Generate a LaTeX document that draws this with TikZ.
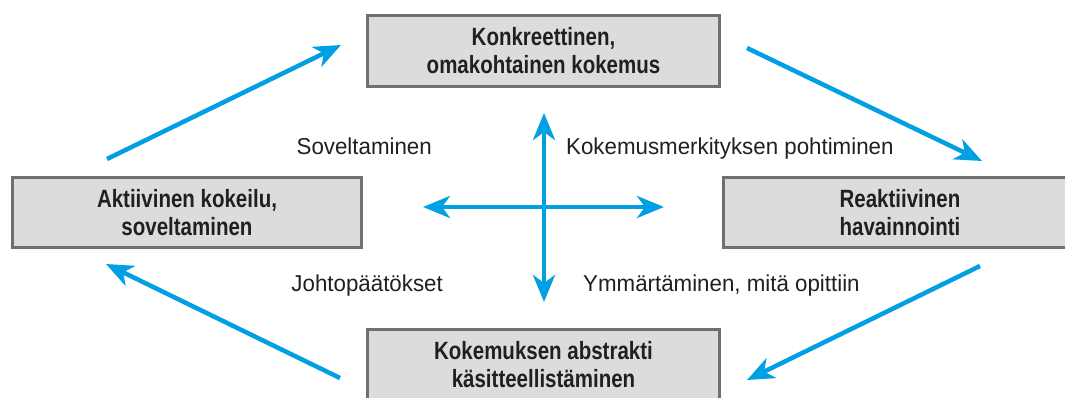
\documentclass[tikz,border=0pt]{standalone}
\usepackage{fontspec}
\usetikzlibrary{arrows.meta}
\newfontfamily\boxfont[FakeStretch=0.82]{Liberation Sans}
\newfontfamily\labfont[FakeStretch=0.97]{Liberation Sans}
\definecolor{arrowblue}{RGB}{0,160,227}
\definecolor{boxfill}{RGB}{221,220,220}
\definecolor{boxline}{RGB}{112,112,112}
\definecolor{txt}{RGB}{35,31,32}
\tikzset{
  stagebox/.style={draw=boxline, fill=boxfill, line width=3pt, inner sep=0pt,
    minimum width=352pt, minimum height=71pt, align=center, text=txt,
    font=\boxfont\bfseries\fontsize{25}{28}\selectfont},
  lab/.style={text=txt, inner sep=0pt, font=\labfont\fontsize{23}{26}\selectfont},
  flow/.style={draw=arrowblue, line width=4.5pt,
    -{Stealth[length=27pt,width=22pt,inset=8pt]}},
  both/.style={draw=arrowblue, line width=4.5pt,
    {Stealth[length=27pt,width=22pt,inset=8pt]}-{Stealth[length=27pt,width=22pt,inset=8pt]}}
}
\begin{document}
\begin{tikzpicture}[x=1pt,y=-1pt]
\useasboundingbox (0,0) rectangle (1065,397);
\fill[white] (0,0) rectangle (1065,397);
\clip (0,0) rectangle (1065,397);
% boxes
\node[stagebox] (top) at (543.5,51) {Konkreettinen,\\omakohtainen kokemus};
\node[stagebox, minimum width=349pt, minimum height=70pt] (left) at (187,212.5) {Aktiivinen kokeilu,\\soveltaminen};
\node[stagebox, minimum width=353pt, minimum height=70pt] (right) at (900,212.5) {Reaktiivinen\\havainnointi};
\node[stagebox] (bottom) at (543.5,365) {Kokemuksen abstrakti\\käsitteellistäminen};
% labels
\node[lab, anchor=base east] (l1) at (432,154) {Soveltaminen};
\node[lab, anchor=base west] (l2) at (566,154) {Kokemusmerkityksen pohtiminen};
\node[lab, anchor=base east] (l3) at (443,291) {Johtopäätökset};
\node[lab, anchor=base west] (l4) at (583,291) {Ymmärtäminen, mitä opittiin};
% cycle arrow end points
\coordinate (a1s) at (747,48);  \coordinate (a1e) at (982,161);
\coordinate (a2s) at (980,266); \coordinate (a2e) at (747,380);
\coordinate (a3s) at (340,378); \coordinate (a3e) at (106,264);
\coordinate (a4s) at (107,159); \coordinate (a4e) at (341,45);
\draw[flow] (a1s) -- (a1e);
\draw[flow] (a2s) -- (a2e);
\draw[flow] (a3s) -- (a3e);
\draw[flow] (a4s) -- (a4e);
% cross
\coordinate (cu) at (544,113); \coordinate (cd) at (544,302);
\coordinate (cl) at (423,207); \coordinate (cr) at (664,207);
\draw[both] (cu) -- (cd);
\draw[both] (cl) -- (cr);
\end{tikzpicture}
\end{document}
